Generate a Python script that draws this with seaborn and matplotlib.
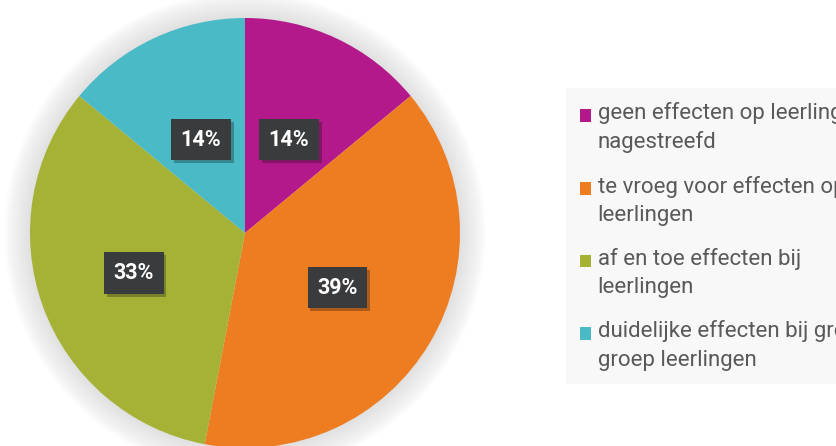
import matplotlib
matplotlib.use("Agg")
import matplotlib.pyplot as plt
import matplotlib.patheffects as pe
from matplotlib.patches import Circle, Patch, Rectangle
from matplotlib.legend_handler import HandlerPatch
import numpy as np
import seaborn as sns

sns.set_theme(style="white")
plt.rcParams["font.family"] = ["Roboto", "DejaVu Sans"]

categories = [
    "geen effecten op leerlingen\nnagestreefd",
    "te vroeg voor effecten op\nleerlingen",
    "af en toe effecten bij\nleerlingen",
    "duidelijke effecten bij grote\ngroep leerlingen",
]
shares = [14, 39, 33, 14]
colors = ["#B3198A", "#EE7D22", "#A6B236", "#4ABAC6"]

# radial position of each percentage box, as a fraction of the radius
label_radius = [0.48, 0.50, 0.55, 0.48]

fig = plt.figure(figsize=(8.37, 4.46), dpi=100)
ax = fig.add_axes([30 / 837, -2 / 446, 430 / 837, 430 / 446])

# soft halo behind the pie
for r in np.linspace(1.12, 1.0, 14):
    ax.add_patch(Circle((0, 0), r, facecolor="#a0a0a0", edgecolor="none",
                        alpha=0.025, zorder=0, clip_on=False))

wedges, _ = ax.pie(shares, colors=colors, startangle=90, counterclock=False,
                   radius=1.0, wedgeprops=dict(linewidth=0, edgecolor="none"))
for w in wedges:
    w.set_zorder(2)
    w.set_clip_on(False)

ax.set_xlim(-1, 1)
ax.set_ylim(-1, 1)
ax.set_aspect("equal")
ax.axis("off")

for w, val, lr in zip(wedges, shares, label_radius):
    mid = np.deg2rad((w.theta1 + w.theta2) / 2)
    x, y = lr * np.cos(mid), lr * np.sin(mid)
    t = ax.text(x, y, f"{val}%", ha="center", va="center", color="white",
                fontsize=15.5, fontweight="bold", zorder=5,
                bbox=dict(boxstyle="square,pad=0.45", facecolor="#3A3B3D",
                          edgecolor="none"))
    t.get_bbox_patch().set_path_effects(
        [pe.SimplePatchShadow(offset=(2, -2), alpha=0.3), pe.Normal()])


def top_line_square(legend, orig_handle, xdescent, ydescent,
                    width, height, fontsize):
    # square key lined up with the first line of a two-line label
    return Rectangle((-xdescent, -ydescent + 0.56 * fontsize), width, height)


handles = [Patch(facecolor=c, edgecolor="none") for c in colors]
leg = fig.legend(handles, categories, loc="upper left",
                 bbox_to_anchor=(566 / 837, 1 - 88 / 446),
                 frameon=True, fancybox=False, fontsize=16,
                 handlelength=0.5, handleheight=0.5, handletextpad=0.3,
                 labelspacing=1.0, borderpad=0.62, borderaxespad=0,
                 labelcolor="#595959",
                 handler_map={Patch: HandlerPatch(patch_func=top_line_square)})
leg.get_frame().set_facecolor("#F7F7F7")
leg.get_frame().set_edgecolor("none")
for txt in leg.get_texts():
    txt.set_linespacing(1.45)

fig.savefig("out.png", dpi=100, facecolor="white")
